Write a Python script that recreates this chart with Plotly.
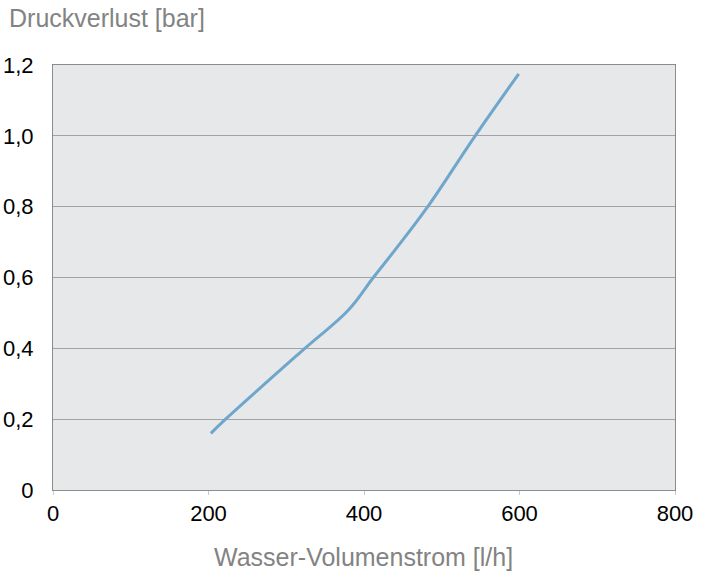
import plotly.graph_objects as go

# Wasser-Volumenstrom [l/h] vs Druckverlust [bar]
flow = [203, 222, 324, 380, 412, 440, 482, 543, 599]
dp = [0.16, 0.20, 0.40, 0.508, 0.60, 0.678, 0.80, 1.00, 1.175]

y_ticks = [0, 0.2, 0.4, 0.6, 0.8, 1.0, 1.2]
y_labels = ["0", "0,2", "0,4", "0,6", "0,8", "1,0", "1,2"]
x_ticks = [0, 200, 400, 600, 800]
x_labels = ["0", "200", "400", "600", "800"]

fig = go.Figure(go.Scatter(
    x=flow, y=dp, mode="lines",
    line=dict(color="#6fa6cc", width=3, shape="spline", smoothing=1.1),
    hoverinfo="skip",
))

fig.update_layout(
    width=705, height=581,
    margin=dict(l=53, r=30, t=65, b=91),
    paper_bgcolor="white",
    plot_bgcolor="#e7e8e9",
    showlegend=False,
    font=dict(family="Liberation Sans, Arial, sans-serif", size=22, color="black"),
    annotations=[
        dict(text="Druckverlust [bar]", xref="paper", yref="paper",
             x=-46 / 622, y=1 + 47 / 425, xanchor="left", yanchor="middle",
             showarrow=False,
             font=dict(family="Liberation Sans Narrow, Liberation Sans, sans-serif",
                       size=25, color="#838383")),
        dict(text="Wasser-Volumenstrom [l/h]", xref="paper", yref="paper",
             x=(363 - 53) / 622, y=-67 / 425, xanchor="center", yanchor="middle",
             showarrow=False,
             font=dict(family="Liberation Sans Narrow, Liberation Sans, sans-serif",
                       size=25, color="#838383")),
    ],
)

fig.update_xaxes(
    range=[0, 800], tickvals=x_ticks, ticktext=x_labels,
    showgrid=False, zeroline=False, automargin=False,
    showline=True, linecolor="#8c8c8c", linewidth=1, mirror=True,
    ticks="outside", ticklen=4, tickcolor="#c8c8c8",
    ticklabelstandoff=0,
)
fig.update_yaxes(
    range=[0, 1.2], tickvals=y_ticks, ticktext=y_labels,
    showgrid=True, gridcolor="#a3a3a3", gridwidth=1, zeroline=False, automargin=False,
    showline=True, linecolor="#8c8c8c", linewidth=1, mirror=True,
    ticks="", ticklabelstandoff=14,
)

# drop the default 8px body margin so the figure sits at the page corner
fig.write_html("out.html", config={"displayModeBar": False},
               post_script="document.body.style.margin = '0';")
